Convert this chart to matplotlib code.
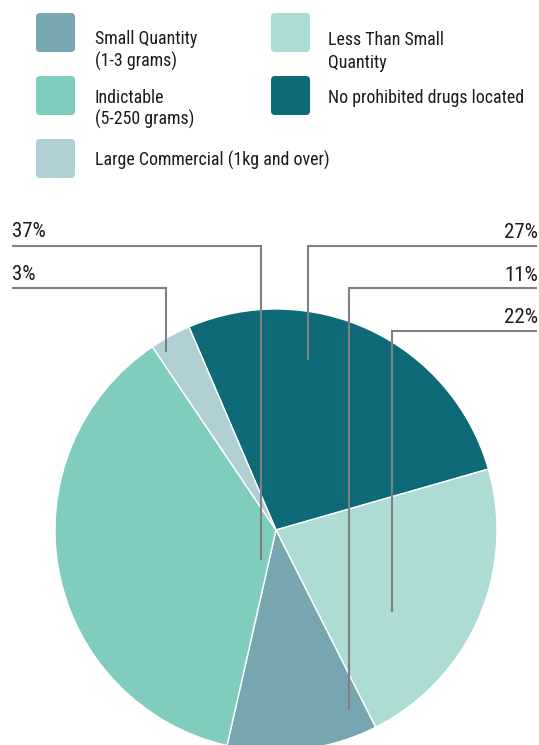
import matplotlib
matplotlib.use("Agg")
import matplotlib.pyplot as plt
from matplotlib.patches import FancyBboxPatch

plt.rcParams['font.family'] = ['Roboto Condensed', 'Liberation Sans', 'DejaVu Sans']

# Pie slices, clockwise from the top-left boundary
slice_names = ['No prohibited drugs located', 'Less Than Small\nQuantity',
               'Small Quantity\n(1-3 grams)', 'Indictable\n(5-250 grams)',
               'Large Commercial (1kg and over)']
slice_values = [27, 22, 11, 37, 3]
slice_colors = ['#0f6a78', '#addcd5', '#77a6b1', '#80cdc0', '#b1d0d6']

# Legend entries, read left to right, top to bottom
legend_order = ['Small Quantity\n(1-3 grams)', 'Less Than Small\nQuantity',
                'Indictable\n(5-250 grams)', 'No prohibited drugs located',
                'Large Commercial (1kg and over)']

W, H = 539, 745
fig = plt.figure(figsize=(W / 100, H / 100), dpi=100)
ax = fig.add_axes([0, 0, 1, 1])

# Work in pixel units, y measured from the bottom
def py(y_top):
    return H - y_top

cx, cy, R = 276, py(530), 221
start = 113.2
ax.pie(slice_values, colors=slice_colors, startangle=start, counterclock=False,
       center=(cx, cy), radius=R,
       wedgeprops=dict(edgecolor='white', linewidth=1.0))
ax.set_xlim(0, W)
ax.set_ylim(0, H)
ax.set_aspect('equal')
ax.axis('off')

text_color = '#1a1a1a'

# Leader lines: (value index, side, line height, vertical x, anchor bottom, label baseline)
leaders = [
    (3, 'left', 245.7, 261, 560, 237),
    (4, 'left', 288.3, 166, 352, 279.5),
    (0, 'right', 246.0, 308, 360, 238),
    (2, 'right', 288.3, 349, 710, 281),
    (1, 'right', 330.7, 392, 612, 323),
]
line_kw = dict(color='#808080', linewidth=1.5, solid_capstyle='butt',
               solid_joinstyle='miter')
for idx, side, ly, vx, vb, tb in leaders:
    if side == 'left':
        ax.plot([12, vx, vx], [py(ly), py(ly), py(vb)], **line_kw)
        ax.text(12, py(tb), f"{slice_values[idx]}%", ha='left', va='baseline',
                fontsize=15, color=text_color)
    else:
        ax.plot([537, vx, vx], [py(ly), py(ly), py(vb)], **line_kw)
        ax.text(538, py(tb), f"{slice_values[idx]}%", ha='right', va='baseline',
                fontsize=15, color=text_color)

# Legend: swatch top-left corner and first-line baseline of the label
color_of = dict(zip(slice_names, slice_colors))
legend_pos = [
    (36, 13, 95, 44),
    (271, 13, 328, 45),
    (36, 76, 95, 102.7),
    (271, 76, 328, 102.7),
    (36, 139, 95, 165.7),
]
line_step = 22.5
for name, (sx, sy, tx, tb) in zip(legend_order, legend_pos):
    size = 39
    box = FancyBboxPatch((sx + 4, py(sy + size) + 4), size - 8, size - 8,
                         boxstyle='round,pad=4', facecolor=color_of[name],
                         edgecolor='none')
    ax.add_patch(box)
    for k, part in enumerate(name.split('\n')):
        ax.text(tx, py(tb + k * line_step), part, ha='left', va='baseline',
                fontsize=12.9, color=text_color)

fig.savefig('out.png', dpi=100)
